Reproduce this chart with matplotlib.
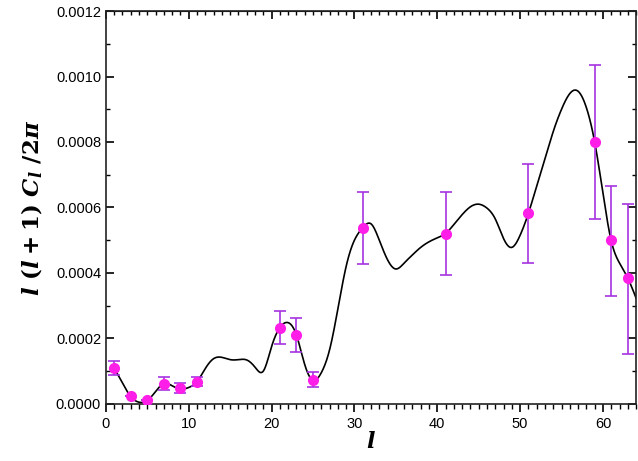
import numpy as np
import matplotlib
matplotlib.use("Agg")
import matplotlib.pyplot as plt
from matplotlib.ticker import MultipleLocator

# titik data (l ganjil) dan error bar
l_data = [1, 3, 5, 7, 9, 11, 21, 23, 25, 31, 41, 51, 59, 61, 63]
cl_data = [0.000110, 0.000024, 0.000013, 0.000062, 0.000047, 0.000068,
           0.000233, 0.000210, 0.000073, 0.000538, 0.000520, 0.000582,
           0.000800, 0.000500, 0.000383]
err_atas = [0.000130, 0.000024, 0.000013, 0.000082, 0.000065, 0.000082,
            0.000283, 0.000263, 0.000097, 0.000648, 0.000646, 0.000732,
            0.001036, 0.000667, 0.000611]
err_bawah = [0.000088, 0.000024, 0.000013, 0.000042, 0.000032, 0.000055,
             0.000183, 0.000157, 0.000050, 0.000428, 0.000394, 0.000430,
             0.000564, 0.000328, 0.000153]

# kurva teori, dibaca per l
l_kurva = list(range(1, 65))
cl_kurva = [0.000109, 0.000064, 0.000022, 0.000005, 0.000010, 0.000038,
            0.000062, 0.000055, 0.000045, 0.000050, 0.000068, 0.000108,
            0.000138, 0.000142, 0.000135, 0.000135, 0.000134, 0.000112,
            0.000100, 0.000175, 0.000233, 0.000248, 0.000210, 0.000120,
            0.000072, 0.000095, 0.000165, 0.000290, 0.000420, 0.000500,
            0.000538, 0.000550, 0.000500, 0.000440, 0.000412, 0.000430,
            0.000455, 0.000478, 0.000495, 0.000507, 0.000520, 0.000548,
            0.000578, 0.000602, 0.000610, 0.000598, 0.000565, 0.000505,
            0.000478, 0.000515, 0.000582, 0.000665, 0.000748, 0.000832,
            0.000900, 0.000948, 0.000955, 0.000905, 0.000800, 0.000643,
            0.000498, 0.000430, 0.000384, 0.000323]


def spline_natural(x, y, xs):
    x = np.asarray(x, float)
    y = np.asarray(y, float)
    n = len(x)
    h = np.diff(x)
    A = np.zeros((n, n))
    b = np.zeros(n)
    A[0, 0] = 1
    A[-1, -1] = 1
    for i in range(1, n - 1):
        A[i, i - 1] = h[i - 1]
        A[i, i] = 2 * (h[i - 1] + h[i])
        A[i, i + 1] = h[i]
        b[i] = 6 * ((y[i + 1] - y[i]) / h[i] - (y[i] - y[i - 1]) / h[i - 1])
    M = np.linalg.solve(A, b)
    idx = np.clip(np.searchsorted(x, xs) - 1, 0, n - 2)
    x0, x1 = x[idx], x[idx + 1]
    hh = x1 - x0
    t0 = x1 - xs
    t1 = xs - x0
    return (M[idx] * t0**3 / (6 * hh) + M[idx + 1] * t1**3 / (6 * hh)
            + (y[idx] / hh - M[idx] * hh / 6) * t0
            + (y[idx + 1] / hh - M[idx + 1] * hh / 6) * t1)


plt.rcParams['font.family'] = ['Liberation Sans', 'DejaVu Sans']
plt.rcParams['mathtext.fontset'] = 'custom'
plt.rcParams['mathtext.it'] = 'DejaVu Serif:italic:bold'
plt.rcParams['mathtext.rm'] = 'DejaVu Serif:bold'

fig = plt.figure(figsize=(6.38, 4.61), dpi=100)
ax = fig.add_axes([0.166, 0.124, 0.831, 0.852])

xs = np.linspace(l_kurva[0], l_kurva[-1], 1200)
ax.plot(xs, spline_natural(l_kurva, cl_kurva, xs), color='black', lw=1.2, zorder=2)

cl = np.array(cl_data)
yerr = [cl - np.array(err_bawah), np.array(err_atas) - cl]
ax.errorbar(l_data, cl, yerr=yerr, fmt='none', ecolor='#a633e0', elinewidth=1.2,
            capsize=4, capthick=1.2, zorder=3)
ax.plot(l_data, cl, 'o', color='#ff1ee8', markersize=7, zorder=4)

ax.set_xlim(0, 64)
ax.set_ylim(0, 0.0012)
ax.xaxis.set_major_locator(MultipleLocator(10))
ax.xaxis.set_minor_locator(MultipleLocator(1))
ax.yaxis.set_major_locator(MultipleLocator(0.0002))
ax.yaxis.set_minor_locator(MultipleLocator(0.0001))
ax.yaxis.set_major_formatter(plt.FuncFormatter(lambda v, p: f"{v:.4f}"))

ax.tick_params(axis='x', which='both', direction='out', top=False, labelsize=10.5)
ax.tick_params(axis='x', which='major', length=6, width=1.2)
ax.tick_params(axis='x', which='minor', length=3.5, width=1)
ax.tick_params(axis='y', which='both', direction='in', right=True, labelsize=10.5)
ax.tick_params(axis='y', which='major', length=6, width=1.2)
ax.tick_params(axis='y', which='minor', length=3, width=1)

# tick bagian atas mengarah ke dalam
ax_atas = ax.secondary_xaxis('top')
ax_atas.xaxis.set_major_locator(MultipleLocator(10))
ax_atas.xaxis.set_minor_locator(MultipleLocator(1))
ax_atas.tick_params(which='both', direction='in', labeltop=False)
ax_atas.tick_params(which='major', length=6, width=1.2)
ax_atas.tick_params(which='minor', length=3, width=1)

for s in ax.spines.values():
    s.set_linewidth(1.2)
    s.set_color('#222222')

ax.set_xlabel(r'$l$', fontsize=16, labelpad=1)
ax.set_ylabel(r'$l\ (l+1)\ C_{l}\ /2\pi$', fontsize=16.5, labelpad=8)

fig.savefig('out.png', dpi=100)
